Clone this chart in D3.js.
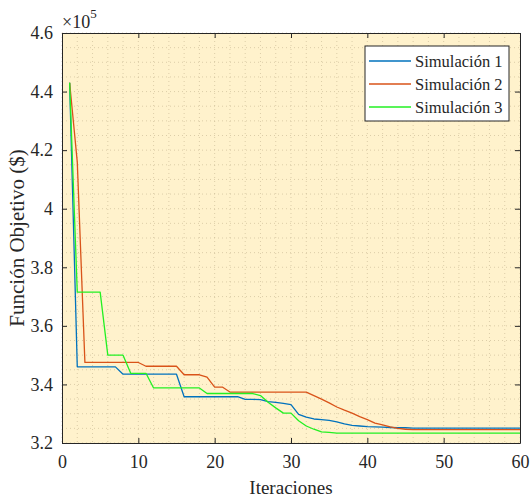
<!DOCTYPE html>
<html>
<head>
<meta charset="utf-8">
<script src="https://cdn.jsdelivr.net/npm/d3@7"></script>
<style>
  body { margin: 0; background: #fff; }
</style>
</head>
<body>
<div id="chart"></div>
<script>
// Iteraciones 1..60, valores en unidades de 1e5
const iteraciones = d3.range(1, 61);

const sim1 = [4.43, 3.46, 3.46, 3.46, 3.46, 3.46, 3.46, 3.435, 3.435, 3.435,
  3.435, 3.435, 3.435, 3.435, 3.435, 3.358, 3.358, 3.358, 3.358, 3.358,
  3.358, 3.358, 3.358, 3.349, 3.349, 3.348, 3.341, 3.339, 3.335, 3.331,
  3.298, 3.288, 3.282, 3.28, 3.277, 3.272, 3.265, 3.26, 3.258, 3.256,
  3.255, 3.254, 3.253, 3.252, 3.252, 3.251, 3.251, 3.251, 3.251, 3.251,
  3.251, 3.251, 3.251, 3.251, 3.251, 3.251, 3.251, 3.251, 3.251, 3.251];

const sim2 = [4.43, 4.16, 3.475, 3.475, 3.475, 3.475, 3.475, 3.475, 3.475, 3.475,
  3.462, 3.462, 3.462, 3.462, 3.462, 3.433, 3.433, 3.433, 3.425, 3.391,
  3.391, 3.374, 3.374, 3.374, 3.374, 3.374, 3.374, 3.374, 3.374, 3.374,
  3.374, 3.374, 3.362, 3.35, 3.337, 3.323, 3.312, 3.302, 3.29, 3.28,
  3.268, 3.262, 3.255, 3.25, 3.247, 3.246, 3.246, 3.246, 3.246, 3.246,
  3.246, 3.246, 3.246, 3.246, 3.246, 3.246, 3.246, 3.246, 3.246, 3.246];

const sim3 = [4.43, 3.715, 3.715, 3.715, 3.715, 3.50, 3.50, 3.50, 3.438, 3.438,
  3.438, 3.388, 3.388, 3.388, 3.388, 3.388, 3.388, 3.388, 3.369, 3.369,
  3.369, 3.369, 3.369, 3.369, 3.369, 3.362, 3.339, 3.32, 3.302, 3.302,
  3.276, 3.258, 3.247, 3.238, 3.236, 3.234, 3.234, 3.234, 3.234, 3.234,
  3.234, 3.234, 3.234, 3.234, 3.234, 3.234, 3.234, 3.234, 3.234, 3.234,
  3.234, 3.234, 3.234, 3.234, 3.234, 3.234, 3.234, 3.234, 3.234, 3.234];

const seriesNames = ["Simulación 1", "Simulación 2", "Simulación 3"];
const seriesColors = ["#0072BD", "#D95319", "#22f022"];

const xTicks = [0, 10, 20, 30, 40, 50, 60];
const yTicks = [3.2, 3.4, 3.6, 3.8, 4, 4.2, 4.4, 4.6];
const yTickLabels = ["3.2", "3.4", "3.6", "3.8", "4", "4.2", "4.4", "4.6"];

const FONT = "'Liberation Serif', 'Times New Roman', serif";
const W = 530, H = 497;
const margin = { top: 33, right: 10, bottom: 54, left: 62 };
const width = W - margin.left - margin.right;
const height = H - margin.top - margin.bottom;

const svg = d3.select("#chart").append("svg")
  .attr("width", W).attr("height", H);

const g = svg.append("g")
  .attr("transform", `translate(${margin.left},${margin.top})`);

const x = d3.scaleLinear().domain([0, 60]).range([0, width]);
const y = d3.scaleLinear().domain([3.2, 4.6]).range([height, 0]);

// fondo
g.append("rect")
  .attr("width", width).attr("height", height)
  .attr("fill", "#fff2cc");

// rejilla menor
const grid = g.append("g");
grid.selectAll(".gx").data(d3.range(0, 61, 2)).join("line")
  .attr("x1", d => x(d)).attr("x2", d => x(d))
  .attr("y1", 0).attr("y2", height)
  .attr("stroke", "#bfae8a").attr("stroke-opacity", 0.55)
  .attr("stroke-dasharray", "1,3");
grid.selectAll(".gy").data(d3.range(3.2, 4.601, 0.05)).join("line")
  .attr("y1", d => y(d)).attr("y2", d => y(d))
  .attr("x1", 0).attr("x2", width)
  .attr("stroke", "#bfae8a").attr("stroke-opacity", 0.55)
  .attr("stroke-dasharray", "1,3");

// curvas
const data = [sim1, sim2, sim3];
const line = d3.line()
  .x((d, i) => x(iteraciones[i]))
  .y(d => y(d));

g.selectAll(".serie").data(data).join("path")
  .attr("d", line)
  .attr("fill", "none")
  .attr("stroke", (d, i) => seriesColors[i])
  .attr("stroke-width", 1.3)
  .attr("stroke-linejoin", "round");

// ejes
const axisColor = "#262626";
const xAxis = g.append("g").attr("transform", `translate(0,${height})`)
  .call(d3.axisBottom(x).tickValues(xTicks).tickSizeInner(-5).tickSizeOuter(0).tickPadding(12));
const yAxis = g.append("g")
  .call(d3.axisLeft(y).tickValues(yTicks).tickFormat((d, i) => yTickLabels[i])
    .tickSizeInner(-5).tickSizeOuter(0).tickPadding(9));
const xTop = g.append("g")
  .call(d3.axisTop(x).tickValues(xTicks).tickSizeInner(-5).tickSizeOuter(0).tickFormat(""));
const yRight = g.append("g").attr("transform", `translate(${width},0)`)
  .call(d3.axisRight(y).tickValues(yTicks).tickSizeInner(-5).tickSizeOuter(0).tickFormat(""));

[xAxis, yAxis, xTop, yRight].forEach(a => {
  a.attr("font-family", FONT);
  a.selectAll(".domain, .tick line").attr("stroke", axisColor).attr("stroke-width", 1);
  a.selectAll("text").style("font-size", "18px").style("font-family", FONT).attr("fill", axisColor);
});

// exponente
const expo = svg.append("text")
  .attr("x", margin.left).attr("y", 28)
  .style("font-family", FONT).style("font-size", "18px").attr("fill", axisColor);
expo.append("tspan").text("×10");
expo.append("tspan").attr("dy", -10).style("font-size", "13px").text("5");

// títulos de ejes
svg.append("text")
  .attr("x", margin.left + width / 2).attr("y", 494)
  .attr("text-anchor", "middle")
  .style("font-family", FONT).style("font-size", "19px").attr("fill", axisColor)
  .text("Iteraciones");

svg.append("text")
  .attr("transform", `translate(24,${margin.top + height / 2}) rotate(-90)`)
  .attr("text-anchor", "middle")
  .style("font-family", FONT).style("font-size", "21px").attr("fill", axisColor)
  .text("Función Objetivo ($)");

// leyenda
const legend = svg.append("g").attr("transform", "translate(365,46)");
legend.append("rect")
  .attr("width", 144).attr("height", 75)
  .attr("fill", "#fff").attr("stroke", axisColor).attr("stroke-width", 1);
const items = legend.selectAll(".item").data(seriesNames).join("g")
  .attr("transform", (d, i) => `translate(0,${15 + i * 23})`);
items.append("line")
  .attr("x1", 4).attr("x2", 46)
  .attr("stroke", (d, i) => seriesColors[i]).attr("stroke-width", 1.3);
items.append("text")
  .attr("x", 50).attr("y", 6)
  .style("font-family", FONT).style("font-size", "16.5px").attr("fill", axisColor)
  .text(d => d);
</script>
</body>
</html>
